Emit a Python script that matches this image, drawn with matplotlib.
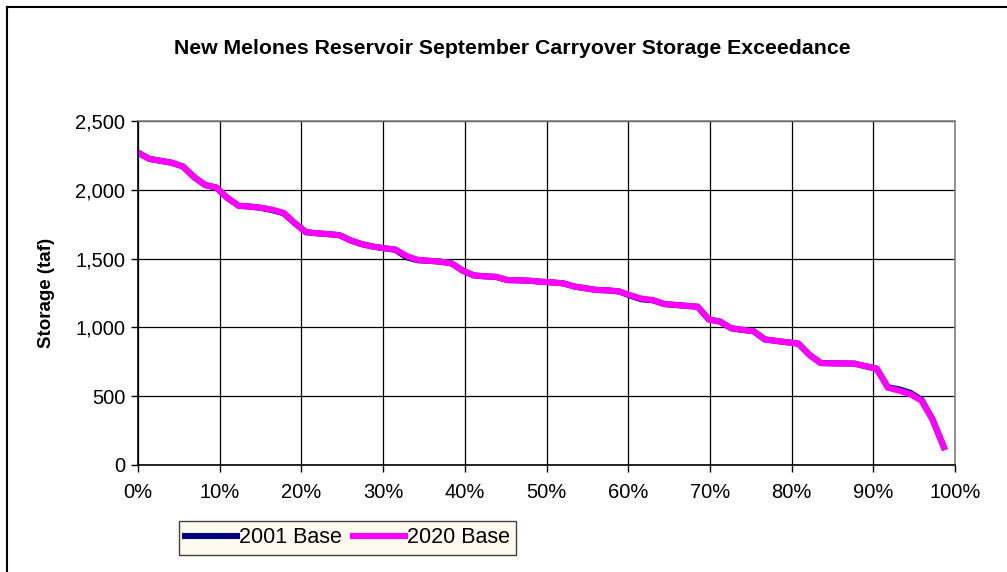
import matplotlib
matplotlib.use("Agg")
import matplotlib.pyplot as plt
import numpy as np
from matplotlib.lines import Line2D
from matplotlib.ticker import FuncFormatter, MultipleLocator

plt.rcParams['font.family'] = ['Liberation Sans', 'DejaVu Sans']

# September carryover storage (taf), sorted high to low, 73 years
base_2020 = [
  2270, 2225, 2211, 2197, 2170, 2093, 2035, 2016, 1940, 1884,
  1878, 1869, 1855, 1833, 1758, 1692, 1684, 1678, 1670, 1632,
  1605, 1587, 1575, 1566, 1519, 1491, 1484, 1478, 1466, 1413,
  1378, 1371, 1367, 1344, 1342, 1339, 1332, 1327, 1320, 1297,
  1284, 1272, 1269, 1261, 1234, 1209, 1199, 1170, 1163, 1157,
  1150, 1058, 1042, 994, 982, 972, 913, 902, 892, 882,
  800, 740, 739, 738, 737, 718, 700, 562, 540, 515,
  468, 330, 130]
base_2001 = [
  2270, 2225, 2211, 2197, 2170, 2093, 2035, 2016, 1940, 1884,
  1878, 1869, 1852, 1830, 1758, 1692, 1684, 1678, 1670, 1632,
  1605, 1587, 1575, 1564, 1510, 1488, 1484, 1478, 1466, 1413,
  1378, 1371, 1367, 1344, 1342, 1339, 1332, 1327, 1320, 1297,
  1284, 1272, 1269, 1261, 1230, 1204, 1197, 1170, 1163, 1157,
  1150, 1058, 1042, 994, 982, 972, 913, 902, 892, 882,
  800, 742, 739, 738, 737, 718, 700, 565, 550, 525,
  474, 330, 130]
series_names = ['2001 Base', '2020 Base']
series_colors = ['#000080', '#FF00FF']

n = len(base_2020)
exceed = np.arange(n) / n

fig = plt.figure(figsize=(10.07, 5.72), dpi=100)
ax = fig.add_axes([138/1007, 1 - 465/572, (955 - 138)/1007, (465 - 121)/572])

for vals, name, col in zip([base_2001, base_2020], series_names, series_colors):
  ax.plot(exceed, vals, color=col, lw=4.4, label=name, solid_joinstyle='miter')

ax.set_xlim(0, 1)
ax.set_ylim(0, 2500)
ax.xaxis.set_major_locator(MultipleLocator(0.1))
ax.yaxis.set_major_locator(MultipleLocator(500))
ax.xaxis.set_major_formatter(FuncFormatter(lambda v, p: "%d%%" % round(v * 100)))
ax.yaxis.set_major_formatter(FuncFormatter(lambda v, p: "{:,.0f}".format(v)))
ax.grid(True, color='black', lw=0.9)
ax.set_axisbelow(True)
ax.tick_params(direction='out', length=5, width=1, labelsize=14.5, color='black')
ax.tick_params(axis='x', pad=8)
ax.tick_params(axis='y', pad=4)

ax.spines['left'].set_color('black')
ax.spines['bottom'].set_color('black')
ax.spines['top'].set_color('#808080')
ax.spines['right'].set_color('#808080')
for s in ax.spines.values():
  s.set_linewidth(1.2)

ax.set_ylabel('Storage (taf)', fontsize=13.5, fontweight='bold', labelpad=15)
fig.text(512/1007, 1 - 48/572, 'New Melones Reservoir September Carryover Storage Exceedance',
         ha='center', va='center', fontsize=15.3, fontweight='bold')

leg = fig.legend(loc='upper left', bbox_to_anchor=(179/1007, 1 - 521/572), ncol=2,
                 fontsize=15.5, fancybox=False, framealpha=1, handlelength=2.4,
                 handletextpad=0.1, columnspacing=0.5, borderpad=0.3,
                 borderaxespad=0)
leg.get_frame().set_facecolor('#FFFAF0')
leg.get_frame().set_edgecolor('#404040')
leg.get_frame().set_linewidth(1.0)

# chart border (top and left edges)
fig.add_artist(Line2D([7/1007, 1], [1 - 7/572, 1 - 7/572], color='black', lw=1.5))
fig.add_artist(Line2D([7/1007, 7/1007], [0, 1 - 7/572], color='black', lw=1.5))

fig.savefig('out.png', dpi=100, facecolor='white')
